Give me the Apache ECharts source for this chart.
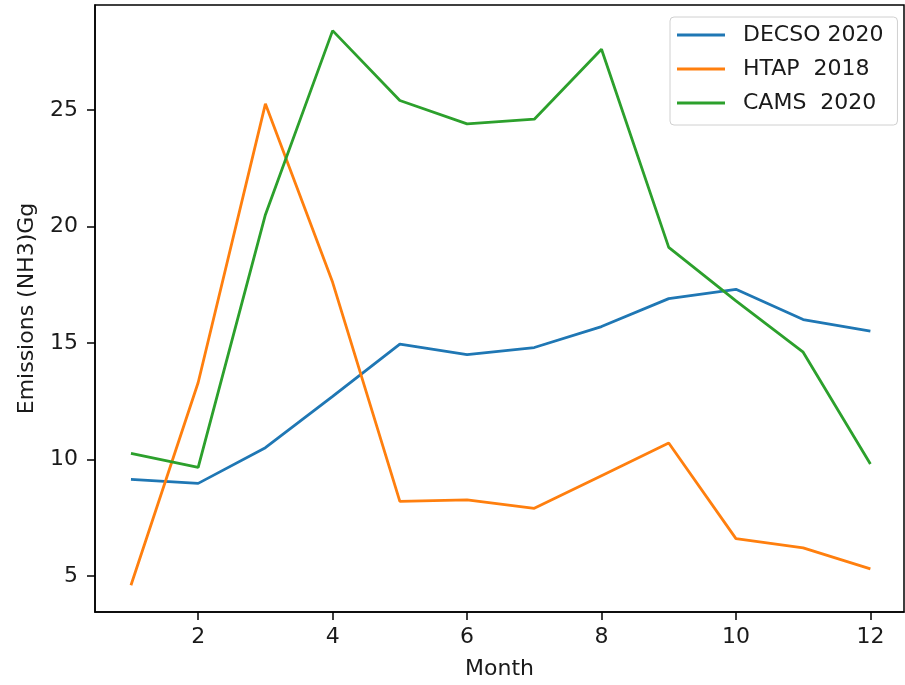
<!DOCTYPE html>
<html style="height: 100%">

<head>
    <meta charset="utf-8">
</head>

<body style="height: 100%; margin: 0">
    <div id="container" style="width: 905px; height: 685px"></div>

    <script type="text/javascript" src="https://cdn.jsdelivr.net/npm/echarts@6/dist/echarts.min.js"></script>

    <script type="text/javascript">

        var months = [1, 2, 3, 4, 5, 6, 7, 8, 9, 10, 11, 12];
        var decso2020 = [9.14, 8.97, 10.5, 12.7, 14.95, 14.5, 14.8, 15.7, 16.9, 17.3, 16.0, 15.5];
        var htap2018 = [4.6, 13.3, 25.26, 17.6, 8.2, 8.26, 7.9, 9.3, 10.7, 6.6, 6.2, 5.3];
        var cams2020 = [10.26, 9.66, 20.5, 28.4, 25.4, 24.4, 24.6, 27.6, 19.1, 16.8, 14.6, 9.8];
        var xTicks = [2, 4, 6, 8, 10, 12];
        var yTicks = [5, 10, 15, 20, 25];

        var dom = document.getElementById("container");
        var myChart = echarts.init(dom);

        function pairs(vals) {
            return months.map(function (m, i) { return [m, vals[i]]; });
        }

        var font = 'DejaVu Sans';
        var txt = '#1a1a1a';

        var option = {
            animation: false,
            backgroundColor: '#fff',
            grid: {
                left: 95, right: 1, top: 5, bottom: 73,
                show: true, borderColor: '#000', borderWidth: 1.5
            },
            legend: {
                orient: 'vertical',
                left: 670, top: 17,
                padding: [7, 14, 11, 7],
                itemWidth: 48, itemHeight: 3,
                itemGap: 12,
                borderColor: '#d0d0d0', borderWidth: 1, borderRadius: 4,
                icon: 'rect',
                textStyle: { fontFamily: font, fontSize: 22, lineHeight: 22, color: txt, padding: [0, 0, 0, 13] },
                data: ['DECSO 2020', 'HTAP  2018', 'CAMS  2020']
            },
            xAxis: {
                type: 'value',
                min: 0.465, max: 12.5,
                name: 'Month', nameLocation: 'middle', nameGap: 46,
                nameTextStyle: { fontFamily: font, fontSize: 22, color: txt },
                splitLine: { show: false },
                axisLine: { lineStyle: { color: '#000', width: 1.5 } },
                axisTick: { customValues: xTicks, length: 8, lineStyle: { color: '#000', width: 1.5 } },
                axisLabel: { customValues: xTicks, fontFamily: font, fontSize: 22, color: txt, margin: 14 }
            },
            yAxis: {
                type: 'value',
                min: 3.45, max: 29.5,
                name: 'Emissions (NH3)Gg', nameLocation: 'middle', nameGap: 57,
                nameTextStyle: { fontFamily: font, fontSize: 22, color: txt },
                splitLine: { show: false },
                axisLine: { show: true, lineStyle: { color: '#000', width: 1.5 } },
                axisTick: { show: true, customValues: yTicks, length: 8, lineStyle: { color: '#000', width: 1.5 } },
                axisLabel: { customValues: yTicks, fontFamily: font, fontSize: 22, color: txt, margin: 17 }
            },
            series: [
                { name: 'DECSO 2020', type: 'line', data: pairs(decso2020), showSymbol: false, color: '#1f77b4', lineStyle: { width: 2.8 } },
                { name: 'HTAP  2018', type: 'line', data: pairs(htap2018), showSymbol: false, color: '#ff7f0e', lineStyle: { width: 2.8 } },
                { name: 'CAMS  2020', type: 'line', data: pairs(cams2020), showSymbol: false, color: '#2ca02c', lineStyle: { width: 2.8 } }
            ]
        };

        myChart.setOption(option);

    </script>
</body>

</html>
